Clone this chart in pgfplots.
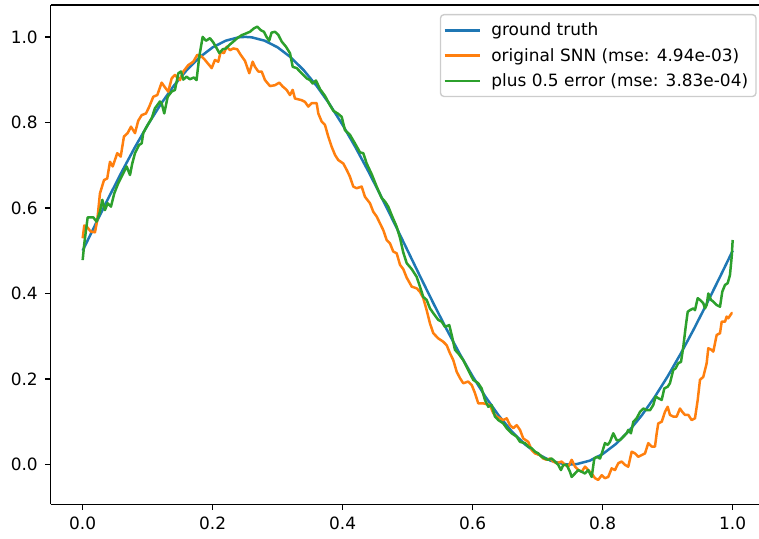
\documentclass[border=0pt]{standalone}
\usepackage{fontspec}
\setmainfont{DejaVu Sans}
\usepackage{pgfplots}
\pgfplotsset{compat=1.18}

\definecolor{tabblue}{HTML}{1F77B4}
\definecolor{taborange}{HTML}{FF7F0E}
\definecolor{tabgreen}{HTML}{2CA02C}

\begin{document}
\begin{tikzpicture}
\begin{axis}[
  scale only axis,
  width=510pt, height=359.5pt,
  xmin=-0.0492, xmax=1.0405,
  ymin=-0.093, ymax=1.0746,
  axis x line*=box, axis y line*=left,
  axis line style={line width=1pt},
  xtick={0,0.2,0.4,0.6,0.8,1.0},
  ytick={0,0.2,0.4,0.6,0.8,1.0},
  xtick pos=left, ytick pos=left,
  tick align=outside,
  major tick length=4.1pt,
  every tick/.style={line width=1pt, black},
  /pgf/number format/assume math mode=true,
  xticklabel style={/pgf/number format/.cd, fixed, fixed zerofill, precision=1},
  yticklabel style={/pgf/number format/.cd, fixed, fixed zerofill, precision=1},
  tick label style={font=\fontsize{12.2}{14.5}\selectfont, inner xsep=5pt, inner ysep=4.5pt},
  legend cell align=left,
  legend image code/.code={\draw[#1] (0pt,0pt) -- (25.2pt,0pt);},
  legend style={
    at={(axis cs:1.0369,1.0536)}, anchor=north east,
    draw=black!20, line width=1pt, rounded corners=2.5pt,
    fill=white, fill opacity=0.8, text opacity=1,
    font=\fontsize{12.2}{14.5}\selectfont,
    row sep=2.1pt, column sep=5.6pt, inner xsep=2pt, inner ysep=3.2pt,
    nodes={inner ysep=1pt, text height=11.05pt, text depth=3.05pt},
  },
  every axis plot/.append style={line width=1.8pt, line join=round},
]
\addplot[tabblue] coordinates {
(0.00,0.5000) (0.02,0.5627) (0.04,0.6243) (0.06,0.6841) (0.08,0.7409)
(0.10,0.7939) (0.12,0.8423) (0.14,0.8853) (0.16,0.9222) (0.18,0.9524)
(0.20,0.9755) (0.22,0.9911) (0.24,0.9990) (0.25,1.0000) (0.26,0.9990)
(0.28,0.9911) (0.30,0.9755) (0.32,0.9524) (0.34,0.9222) (0.36,0.8853)
(0.38,0.8423) (0.40,0.7939) (0.42,0.7409) (0.44,0.6841) (0.46,0.6243)
(0.48,0.5627) (0.50,0.5000) (0.52,0.4373) (0.54,0.3757) (0.56,0.3159)
(0.58,0.2591) (0.60,0.2061) (0.62,0.1577) (0.64,0.1147) (0.66,0.0778)
(0.68,0.0476) (0.70,0.0245) (0.72,0.0089) (0.74,0.0010) (0.75,0.0000)
(0.76,0.0010) (0.78,0.0089) (0.80,0.0245) (0.82,0.0476) (0.84,0.0778)
(0.86,0.1147) (0.88,0.1577) (0.90,0.2061) (0.92,0.2591) (0.94,0.3159)
(0.96,0.3757) (0.98,0.4373) (1.00,0.5000)
};
\addlegendentry{ground truth}
\addplot[taborange] coordinates {
(0.0000,0.529) (0.0025,0.559) (0.0070,0.555) (0.0123,0.545) (0.0189,0.543)
(0.0225,0.572) (0.0266,0.634) (0.0328,0.665) (0.0378,0.669) (0.0420,0.708)
(0.0462,0.697) (0.0532,0.728) (0.0585,0.720) (0.0635,0.767) (0.0692,0.775)
(0.0743,0.790) (0.0805,0.775) (0.0855,0.804) (0.0908,0.817) (0.0974,0.821)
(0.1025,0.837) (0.1086,0.860) (0.1148,0.864) (0.1215,0.893) (0.1266,0.882)
(0.1317,0.872) (0.1369,0.903) (0.1420,0.911) (0.1497,0.899) (0.1548,0.919)
(0.1625,0.934) (0.1702,0.942) (0.1763,0.958) (0.1831,0.954) (0.1882,0.946)
(0.1985,0.927) (0.2035,0.946) (0.2086,0.942) (0.2123,0.965) (0.2174,0.962)
(0.2215,0.977) (0.2266,0.969) (0.2317,0.973) (0.2378,0.971) (0.2431,0.958)
(0.2497,0.944) (0.2563,0.915) (0.2615,0.942) (0.2651,0.930) (0.2702,0.919)
(0.2754,0.919) (0.2805,0.899) (0.2882,0.885) (0.2958,0.887) (0.3025,0.893)
(0.3077,0.884) (0.3138,0.876) (0.3189,0.864) (0.3231,0.876) (0.3266,0.856)
(0.3369,0.852) (0.3420,0.848) (0.3471,0.837) (0.3523,0.845) (0.3600,0.845)
(0.3625,0.821) (0.3677,0.802) (0.3728,0.794) (0.3778,0.767) (0.3831,0.743)
(0.3882,0.724) (0.3932,0.712) (0.4009,0.704) (0.4062,0.689) (0.4112,0.673)
(0.4163,0.650) (0.4215,0.646) (0.4292,0.650) (0.4343,0.626) (0.4420,0.611)
(0.4471,0.591) (0.4523,0.580) (0.4574,0.564) (0.4625,0.548) (0.4677,0.525)
(0.4728,0.517) (0.4778,0.498) (0.4831,0.494) (0.4882,0.467) (0.4932,0.457)
(0.4985,0.437) (0.5062,0.416) (0.5138,0.412) (0.5189,0.404) (0.5240,0.389)
(0.5292,0.361) (0.5343,0.330) (0.5394,0.307) (0.5471,0.295) (0.5548,0.287)
(0.5600,0.279) (0.5651,0.260) (0.5702,0.244) (0.5754,0.217) (0.5805,0.202)
(0.5855,0.190) (0.5932,0.194) (0.5985,0.186) (0.6035,0.167) (0.6086,0.143)
(0.6163,0.143) (0.6266,0.139) (0.6317,0.120) (0.6369,0.112) (0.6471,0.104)
(0.6523,0.108) (0.6574,0.092) (0.6625,0.085) (0.6677,0.092) (0.6728,0.081)
(0.6778,0.061) (0.6855,0.053) (0.6908,0.034) (0.6958,0.026) (0.7035,0.022)
(0.7086,0.014) (0.7138,0.011) (0.7189,0.014) (0.7240,0.007) (0.7292,0.003)
(0.7369,0.007) (0.7420,-0.001) (0.7471,-0.005) (0.7523,0.011) (0.7574,-0.005)
(0.7625,-0.013) (0.7677,-0.017) (0.7728,-0.005) (0.7778,-0.013) (0.7831,-0.021)
(0.7882,-0.032) (0.7932,-0.036) (0.7985,-0.025) (0.8035,-0.032) (0.8086,-0.029)
(0.8138,-0.009) (0.8189,-0.013) (0.8240,0.003) (0.8292,0.007) (0.8343,-0.001)
(0.8394,-0.005) (0.8446,0.030) (0.8497,0.026) (0.8548,0.018) (0.8600,0.022)
(0.8651,0.026) (0.8702,0.050) (0.8754,0.042) (0.8805,0.042) (0.8831,0.073)
(0.8855,0.096) (0.8908,0.100) (0.8958,0.123) (0.9000,0.135) (0.9035,0.116)
(0.9086,0.112) (0.9138,0.112) (0.9189,0.131) (0.9225,0.123) (0.9266,0.116)
(0.9317,0.116) (0.9369,0.104) (0.9420,0.108) (0.9462,0.151) (0.9497,0.198)
(0.9548,0.205) (0.9600,0.237) (0.9625,0.272) (0.9677,0.268) (0.9702,0.264)
(0.9754,0.303) (0.9805,0.307) (0.9831,0.334) (0.9882,0.334) (0.9908,0.346)
(0.9932,0.342) (0.9985,0.354) (1.0000,0.354)
};
\addlegendentry{original SNN (mse: 4.94e-03)\kern1.6pt}
\addplot[tabgreen] coordinates {
(0.0000,0.478) (0.0025,0.517) (0.0077,0.578) (0.0163,0.578) (0.0214,0.568)
(0.0266,0.591) (0.0302,0.619) (0.0343,0.595) (0.0385,0.611) (0.0435,0.603)
(0.0486,0.634) (0.0548,0.658) (0.0625,0.681) (0.0677,0.697) (0.0728,0.677)
(0.0763,0.704) (0.0805,0.728) (0.0866,0.747) (0.0908,0.751) (0.0932,0.775)
(0.0985,0.790) (0.1062,0.810) (0.1112,0.833) (0.1189,0.849) (0.1215,0.845)
(0.1255,0.821) (0.1308,0.860) (0.1369,0.872) (0.1420,0.876) (0.1472,0.915)
(0.1512,0.919) (0.1548,0.900) (0.1597,0.907) (0.1649,0.901) (0.1711,0.905)
(0.1752,0.899) (0.1794,0.954) (0.1846,1.000) (0.1897,0.991) (0.1958,0.997)
(0.2010,0.987) (0.2063,0.973) (0.2103,0.962) (0.2154,0.971) (0.2205,0.973)
(0.2255,0.981) (0.2318,0.989) (0.2378,0.997) (0.2446,1.004) (0.2512,1.008)
(0.2574,1.012) (0.2635,1.020) (0.2686,1.024) (0.2737,1.016) (0.2788,1.012)
(0.2829,1.000) (0.2869,0.991) (0.2906,1.010) (0.2958,1.012) (0.3009,1.005)
(0.3062,0.989) (0.3128,0.977) (0.3189,0.962) (0.3231,0.930) (0.3292,0.927)
(0.3369,0.915) (0.3446,0.903) (0.3497,0.899) (0.3538,0.891) (0.3589,0.898)
(0.3651,0.878) (0.3728,0.862) (0.3805,0.840) (0.3858,0.827) (0.3932,0.820)
(0.3985,0.813) (0.4035,0.782) (0.4112,0.771) (0.4189,0.751) (0.4266,0.730)
(0.4317,0.728) (0.4369,0.704) (0.4446,0.679) (0.4523,0.650) (0.4600,0.623)
(0.4651,0.615) (0.4702,0.603) (0.4754,0.583) (0.4831,0.556) (0.4882,0.530)
(0.4932,0.496) (0.4985,0.471) (0.5062,0.457) (0.5138,0.439) (0.5189,0.416)
(0.5240,0.392) (0.5292,0.385) (0.5343,0.365) (0.5394,0.354) (0.5471,0.338)
(0.5523,0.334) (0.5574,0.322) (0.5640,0.326) (0.5677,0.303) (0.5728,0.268)
(0.5778,0.260) (0.5855,0.244) (0.5906,0.229) (0.5957,0.213) (0.6009,0.198)
(0.6086,0.190) (0.6138,0.178) (0.6189,0.151) (0.6240,0.135) (0.6292,0.139)
(0.6343,0.112) (0.6394,0.104) (0.6471,0.096) (0.6523,0.085) (0.6600,0.073)
(0.6677,0.065) (0.6728,0.053) (0.6805,0.050) (0.6855,0.042) (0.6908,0.038)
(0.6958,0.030) (0.7009,0.026) (0.7060,0.018) (0.7112,0.014) (0.7163,0.011)
(0.7215,0.014) (0.7266,0.007) (0.7317,-0.001) (0.7358,-0.013) (0.7394,-0.001)
(0.7446,-0.001) (0.7497,-0.017) (0.7523,-0.029) (0.7574,-0.021) (0.7625,-0.013)
(0.7677,-0.017) (0.7728,-0.021) (0.7778,-0.013) (0.7831,-0.029) (0.7871,0.014)
(0.7908,0.018) (0.7960,0.014) (0.7995,0.030) (0.8035,0.050) (0.8077,0.046)
(0.8112,0.053) (0.8163,0.073) (0.8215,0.057) (0.8266,0.057) (0.8317,0.065)
(0.8369,0.073) (0.8394,0.081) (0.8435,0.073) (0.8471,0.100) (0.8523,0.108)
(0.8574,0.123) (0.8625,0.131) (0.8677,0.127) (0.8728,0.127) (0.8778,0.139)
(0.8815,0.159) (0.8855,0.155) (0.8908,0.151) (0.8948,0.178) (0.9000,0.182)
(0.9035,0.190) (0.9086,0.221) (0.9123,0.225) (0.9163,0.237) (0.9205,0.240)
(0.9240,0.275) (0.9277,0.322) (0.9308,0.357) (0.9343,0.361) (0.9394,0.365)
(0.9420,0.361) (0.9462,0.389) (0.9497,0.385) (0.9548,0.377) (0.9574,0.365)
(0.9600,0.373) (0.9625,0.400) (0.9666,0.385) (0.9702,0.381) (0.9754,0.373)
(0.9805,0.369) (0.9840,0.404) (0.9882,0.420) (0.9923,0.424) (0.9958,0.443)
(0.9985,0.486) (1.0000,0.525)
};
\addlegendentry{plus 0.5 error (mse: 3.83e-04)\kern1.6pt}
\coordinate (ll) at (rel axis cs:0,0);
\coordinate (ur) at (rel axis cs:1,1);
\end{axis}
\pgfresetboundingbox
\path[use as bounding box] ([xshift=-36.5pt,yshift=-24.3pt]ll) rectangle ([yshift=3.6pt]ur);
\end{tikzpicture}
\end{document}
